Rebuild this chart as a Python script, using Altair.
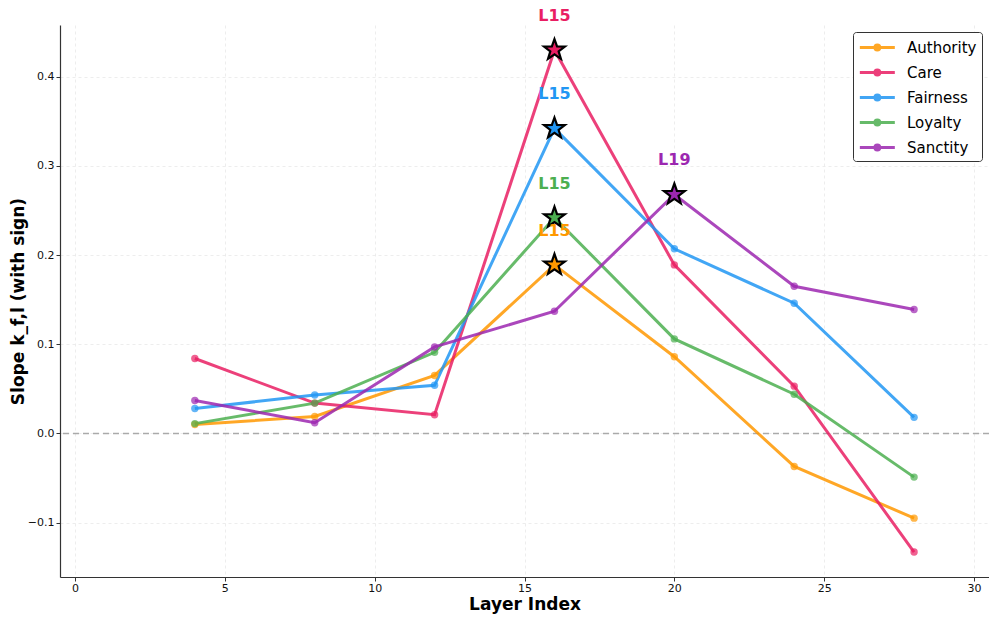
import altair as alt
import pandas as pd

layers = [4, 8, 12, 16, 20, 24, 28]
series_names = ["Authority", "Care", "Fairness", "Loyalty", "Sanctity"]
authority = [0.010, 0.019, 0.065, 0.189, 0.086, -0.037, -0.095]
care = [0.084, 0.034, 0.021, 0.430, 0.189, 0.053, -0.133]
fairness = [0.028, 0.043, 0.054, 0.342, 0.207, 0.146, 0.018]
loyalty = [0.011, 0.034, 0.091, 0.242, 0.106, 0.044, -0.049]
sanctity = [0.037, 0.012, 0.097, 0.137, 0.268, 0.165, 0.139]
peak_labels = ["L15", "L15", "L15", "L15", "L19"]
colors = ["#FF9800", "#E91E63", "#2196F3", "#4CAF50", "#9C27B0"]
x_ticks = [0, 5, 10, 15, 20, 25, 30]
y_ticks = [-0.1, 0.0, 0.1, 0.2, 0.3, 0.4]

values = [authority, care, fairness, loyalty, sanctity]
rows = []
peaks = []
for name, vals, lab in zip(series_names, values, peak_labels):
    for l, v in zip(layers, vals):
        rows.append({"series": name, "layer": l, "slope": v})
    i = max(range(len(vals)), key=lambda k: vals[k])
    peaks.append({"series": name, "layer": layers[i], "slope": vals[i], "label": lab})
df = pd.DataFrame(rows)
pk = pd.DataFrame(peaks)

STAR = ("M0,-1L0.235,-0.324L0.951,-0.309L0.380,0.124L0.588,0.809L0,0.4"
        "L-0.588,0.809L-0.380,0.124L-0.951,-0.309L-0.235,-0.324Z")
LEG = ("M-1,0L3.04,0M0.74,0A0.28,0.28 0 1,0 1.3,0A0.28,0.28 0 1,0 0.74,0")

font = "DejaVu Sans"
xs = alt.Scale(domain=[-0.5, 30.5], nice=False, zero=False)
ys = alt.Scale(domain=[-0.161, 0.458], nice=False, zero=False)
cs = alt.Scale(domain=series_names, range=colors)

X = alt.X("layer:Q", scale=xs, axis=alt.Axis(values=x_ticks, title="Layer Index", format="d",
                                             labelPadding=1, titlePadding=3))
Y = alt.Y("slope:Q", scale=ys, axis=alt.Axis(values=y_ticks, title="Slope k_f,l (with sign)", format=".1f",
                                             titlePadding=0))

zero = alt.Chart(pd.DataFrame({"slope": [0.0]})).mark_rule(
    color="#aaaaaa", strokeDash=[6, 4], strokeWidth=1.5
).encode(y=Y)

lines = alt.Chart(df).mark_line(strokeWidth=3, opacity=0.85).encode(
    x=X, y=Y,
    color=alt.Color("series:N", scale=cs, title=None,
                    legend=alt.Legend(symbolType=LEG, symbolStrokeWidth=3)),
)
pts = alt.Chart(df).mark_circle(size=55, opacity=0.7).encode(
    x=X, y=Y, color=alt.Color("series:N", scale=cs, legend=None)
)
stars = alt.Chart(pk).mark_point(shape=STAR, filled=True, size=480, stroke="black",
                                 strokeWidth=2.2, opacity=1).encode(
    x=X, y=Y, fill=alt.Fill("series:N", scale=cs, legend=None)
)
texts = alt.Chart(pk).mark_text(dy=-34, fontSize=16, fontWeight="bold", font=font).encode(
    x=X, y=Y, text="label:N", color=alt.Color("series:N", scale=cs, legend=None)
)

chart = alt.layer(zero, lines, pts, stars, texts).properties(
    width=929, height=552,
    autosize=alt.AutoSizeParams(type="none"),
    padding={"left": 52, "top": 17, "right": 0, "bottom": 37},
).configure_view(stroke=None).configure_axis(
    labelFont=font, titleFont=font, labelFontSize=11, labelColor="#111",
    titleFontSize=17, titleFontWeight="bold", titleColor="#000",
    grid=True, gridColor="#e8e8e8", gridDash=[3, 3], gridWidth=0.8,
    domainColor="#333", domainWidth=1.2, tickColor="#333", tickSize=4,
).configure_legend(
    orient="top-right", offset=7, labelFont=font, labelFontSize=15, labelColor="#000",
    strokeColor="#333", fillColor="white", padding=5, cornerRadius=3,
    symbolSize=300, rowPadding=6, labelOffset=28,
)

chart.save("out.html", embed_options={"renderer": "svg", "actions": False})
